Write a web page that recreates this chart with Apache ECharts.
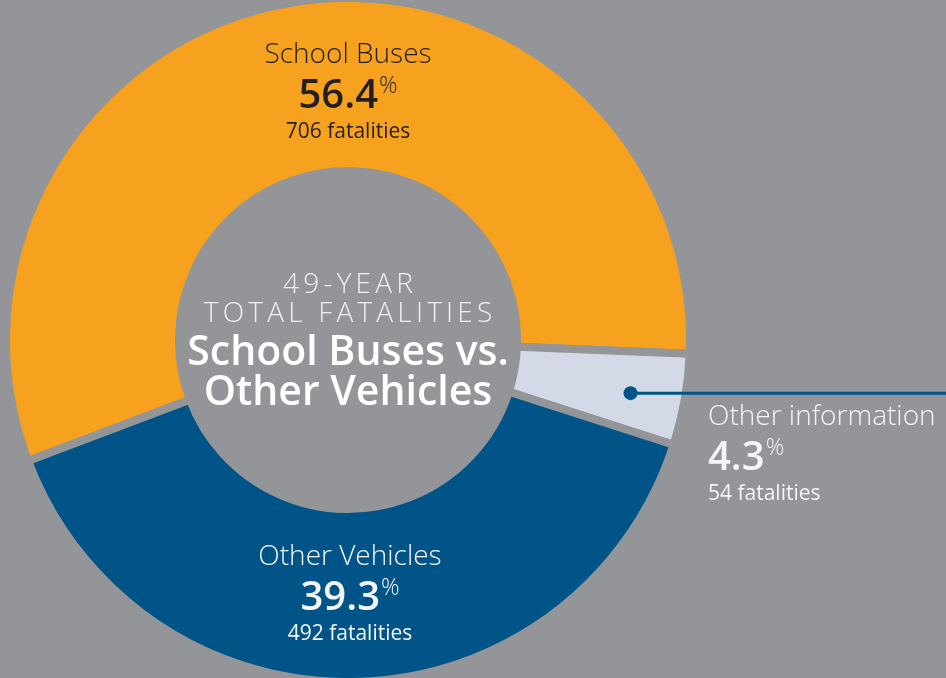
<!DOCTYPE html>
<html>
<head>
<meta charset="utf-8">
<script src="https://cdn.jsdelivr.net/npm/echarts@6/dist/echarts.min.js"></script>
<style>
  html, body { margin: 0; padding: 0; background: #939598; }
  #chart { width: 946px; height: 678px; }
</style>
</head>
<body>
<div id="chart"></div>
<script>
// slice data (49-year totals)
const categories = ['School Buses', 'Other information', 'Other Vehicles'];
const fatalities = [706, 54, 492];
const percents = ['56.4', '4.3', '39.3'];
const sliceColors = ['#f6a21e', '#d3d9e7', '#005487'];
const centerLines = ['49-YEAR', 'TOTAL FATALITIES', 'School Buses vs.', 'Other Vehicles'];

const bg = '#939598';
const cx = 348, cy = 340, rIn = 169, rOut = 342;
const startAngle = 200.7;

let total = fatalities.reduce((a, b) => a + b, 0);

// angle of the middle of the small slice, for the leader dot
let midAngle = startAngle - 360 * (fatalities[0] + fatalities[1] / 2) / total;
let dotR = 287;
let dotX = cx + dotR * Math.cos(midAngle * Math.PI / 180);
let dotY = cy - dotR * Math.sin(midAngle * Math.PI / 180) + 3;

// spaced-out light caption: lay out characters one by one
let measureCtx = document.createElement('canvas').getContext('2d');
function spacedText(str, y, font, spacing, fill) {
    measureCtx.font = font;
    let widths = Array.from(str).map(ch => measureCtx.measureText(ch).width);
    let full = widths.reduce((a, b) => a + b, 0) + spacing * (widths.length - 1);
    let x = cx - full / 2;
    let children = [];
    Array.from(str).forEach((ch, i) => {
        children.push({ type: 'text', x: x, y: y, style: { text: ch, font: font, fill: fill, align: 'left', verticalAlign: 'middle' } });
        x += widths[i] + spacing;
    });
    return { type: 'group', children: children };
}

function richFor(dark) {
    let c = dark ? '#231f20' : '#f4f5f5';
    return {
        name: { fontFamily: 'Open Sans', fontWeight: 300, fontSize: 28, color: c, lineHeight: 40 },
        val: { fontFamily: 'Open Sans', fontWeight: 600, fontSize: 40, color: c, lineHeight: 44 },
        pct: { fontFamily: 'Open Sans', fontWeight: 300, fontSize: 23, color: c, verticalAlign: 'top', lineHeight: 44, padding: [0, 0, 12, 1] },
        fat: { fontFamily: 'Open Sans', fontSize: 21, color: c, lineHeight: 26 }
    };
}

let seriesData = categories.map((name, i) => ({
    name: name,
    value: fatalities[i],
    itemStyle: { color: sliceColors[i] },
    label: { rich: richFor(i === 0), align: i === 1 ? 'left' : 'center' }
}));

const lightFont = '300 28px "Open Sans"';
const boldFont = '600 41px "Open Sans"';

let option = {
    backgroundColor: bg,
    animation: false,
    graphic: [
        spacedText(centerLines[0], 285, lightFont, 4.2, '#eeeff0'),
        spacedText(centerLines[1], 314, lightFont, 4.2, '#eeeff0'),
        { type: 'text', x: cx, y: 353, style: { text: centerLines[2], font: boldFont, fill: '#ffffff', align: 'center', verticalAlign: 'middle' } },
        { type: 'text', x: cx, y: 393, style: { text: centerLines[3], font: boldFont, fill: '#ffffff', align: 'center', verticalAlign: 'middle' } },
        {
            type: 'line',
            shape: { x1: dotX, y1: dotY, x2: 946, y2: dotY },
            style: { stroke: '#005487', lineWidth: 3 },
            z: 10
        },
        {
            type: 'circle',
            shape: { cx: dotX, cy: dotY, r: 7 },
            style: { fill: '#005487' },
            z: 10
        }
    ],
    series: [{
        type: 'pie',
        center: [cx, cy],
        radius: [rIn, rOut],
        startAngle: startAngle,
        clockwise: true,
        avoidLabelOverlap: false,
        itemStyle: { borderColor: bg, borderWidth: 8 },
        label: {
            show: true,
            position: 'inside',
            formatter: function (p) {
                return '{name|' + p.name + '}\n{val|' + percents[p.dataIndex] + '}{pct|%}\n{fat|' + p.value + ' fatalities}';
            }
        },
        labelLine: { show: false },
        labelLayout: function (p) {
            if (p.dataIndex === 1) {
                return { x: 708, y: 397, align: 'left', verticalAlign: 'top' };
            }
            if (p.dataIndex === 0) {
                return { x: cx, y: 90 };
            }
            return { x: cx + 2, y: 592 };
        },
        data: seriesData
    }]
};

let chart = echarts.init(document.getElementById('chart'));
chart.setOption(option);
</script>
</body>
</html>
